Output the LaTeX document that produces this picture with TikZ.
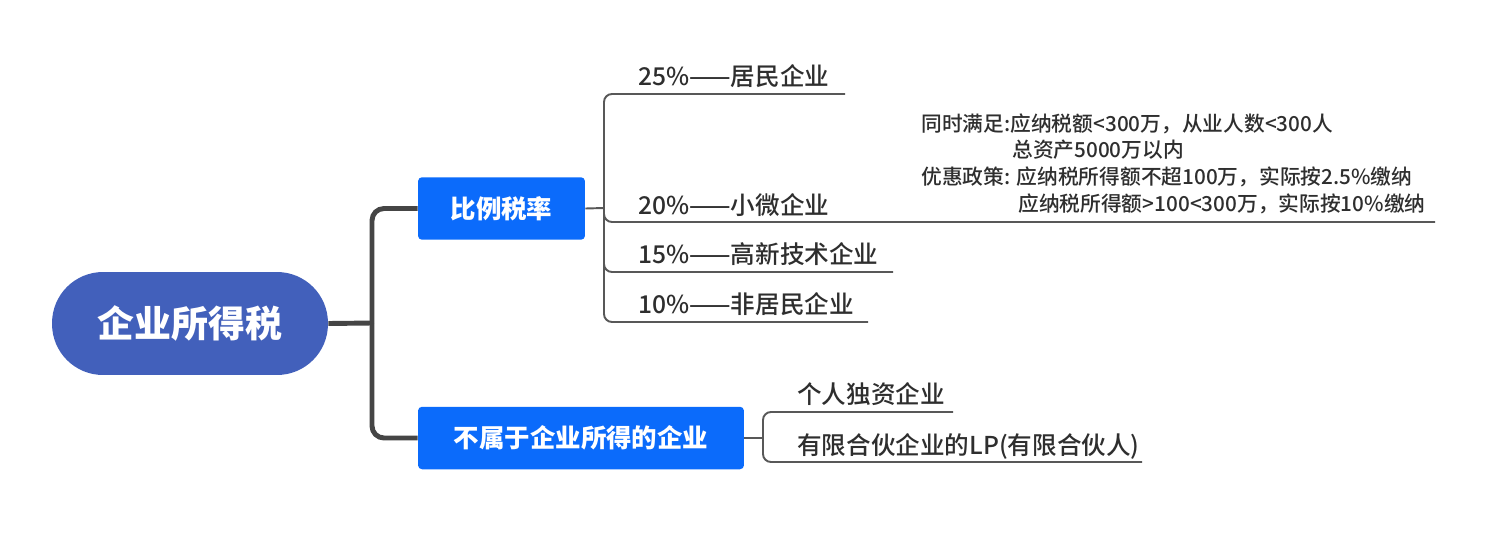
\documentclass[tikz,border=0pt]{standalone}
\usepackage{fontspec}
\setmainfont{Noto Sans CJK SC}
\newfontfamily\medfont{Noto Sans CJK SC Medium}
\usepackage{tikz}
\definecolor{rootblue}{HTML}{4260BB}
\definecolor{boxblue}{HTML}{0B6BFB}
\definecolor{trunkgray}{HTML}{454545}
\definecolor{branchgray}{HTML}{585858}
\definecolor{txt}{HTML}{2E2E2E}
\tikzset{%
    rootnode/.style={fill=rootblue,text=white,inner sep=0pt,minimum width=5.52cm,minimum height=2.06cm,rounded corners=1.02cm,font=\fontsize{21}{24}\selectfont\bfseries},
    topic/.style={fill=boxblue,text=white,inner sep=0pt,minimum height=1.25cm,rounded corners=0.08cm,font=\fontsize{14.5}{17}\selectfont\bfseries},
    leaf/.style={anchor=west,inner sep=0pt,text=txt,font=\fontsize{14}{16}\selectfont\medfont},
    trunk/.style={line width=2.8pt,draw=trunkgray,rounded corners=0.24cm},
    branch/.style={line width=1.1pt,draw=branchgray,rounded corners=0.16cm}
}

\begin{document}
\begin{tikzpicture}[x=0.02cm,y=-0.02cm]
            \useasboundingbox (0,0) rectangle (1495,538);

            \node[rootnode] (root) at (190,323.5){企业所得税};
            \node[topic,minimum width=3.34cm] (rate) at (501.5,208.5){比例税率};
            \node[topic,minimum width=6.52cm] (excl) at (581,438){不属于企业所得的企业};

            \coordinate (tr) at (372,323);
            \draw[trunk] (root.east) -- (tr);
            \draw[trunk] (tr) |- (rate.west);
            \draw[trunk] (tr) |- (excl.west);

            % rates
            \node[leaf] (r25) at (638,76){25\%——居民企业};
            \node[leaf] (r20) at (638,205){20\%——小微企业};
            \node[leaf] (r15) at (638,254){15\%——高新技术企业};
            \node[leaf] (r10) at (638,304){10\%——非居民企业};
            \node[anchor=north west,inner sep=0pt,text=txt,align=left,
                  font=\fontsize{11.8}{15.3}\selectfont\medfont] (note) at (921,113){%
                同时满足:应纳税额<300万，从业人数<300人\\
                \hspace*{1.82cm}总资产5000万以内\\
                优惠政策: 应纳税所得额不超100万，实际按2.5\%缴纳\\
                \hspace*{1.94cm}应纳税所得额>100<300万，实际按10\%缴纳};

            \coordinate (ra) at (604,208);
            \coordinate (r25e) at (845,94);
            \coordinate (r20e) at (1435,222);
            \coordinate (r15e) at (893,272);
            \coordinate (r10e) at (868,322);
            \draw[branch] (rate.east) -- (ra);
            \draw[branch] (ra) |- (r25e);
            \draw[branch] (ra) |- (r20e);
            \draw[branch] (ra) |- (r15e);
            \draw[branch] (ra) |- (r10e);

            % not included
            \node[leaf] (ind) at (797,394){个人独资企业};
            \node[leaf] (lp) at (797,446){有限合伙企业的LP(有限合伙人)};

            \coordinate (xa) at (763,438);
            \coordinate (inde) at (953,412);
            \coordinate (lpe) at (1142,462);
            \draw[branch] (excl.east) -- (xa);
            \draw[branch] (xa) |- (inde);
            \draw[branch] (xa) |- (lpe);
        \end{tikzpicture}
\end{document}
